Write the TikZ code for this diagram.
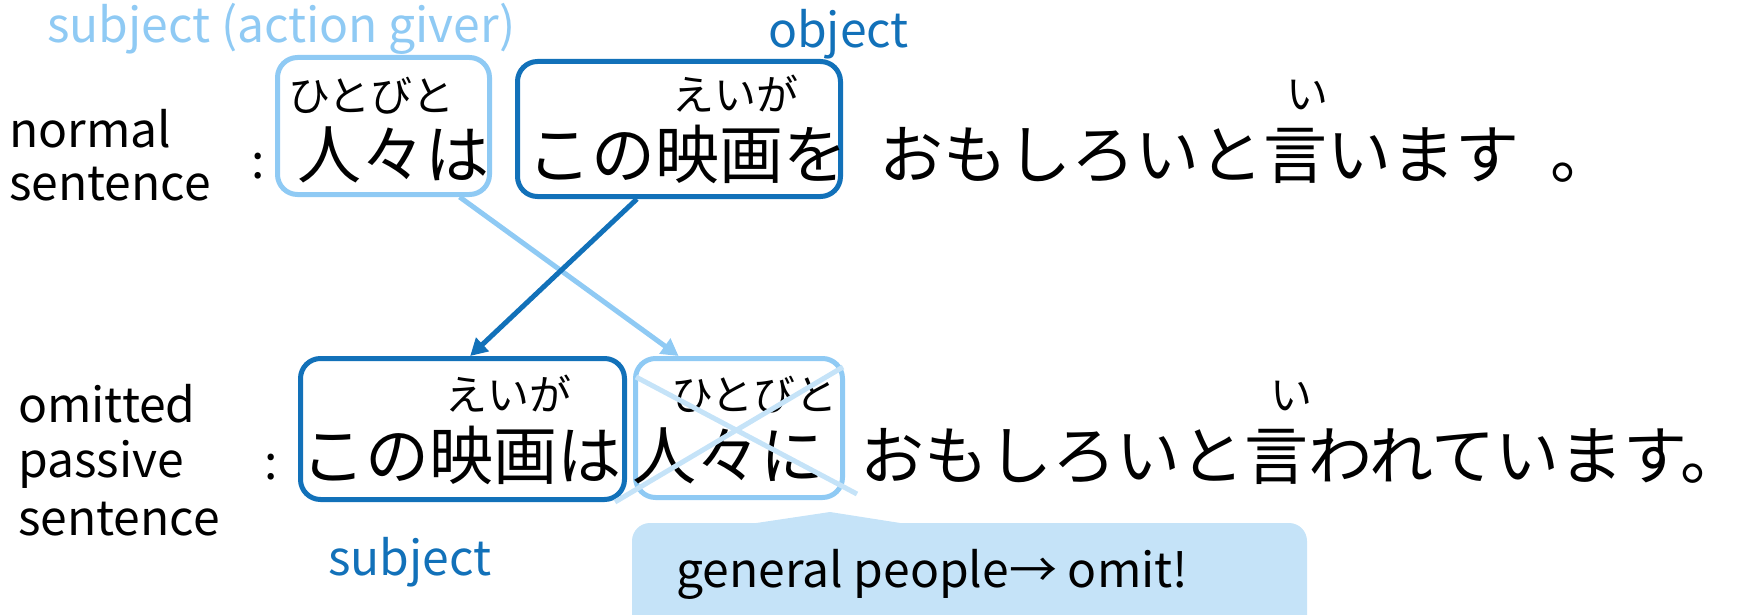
\documentclass[tikz,border=0pt]{standalone}
\usepackage{fontspec}
\setmainfont{Noto Sans CJK JP}
\usepackage{tikz}
\usetikzlibrary{arrows.meta}
\usetikzlibrary{positioning}
\definecolor{lightblue}{RGB}{143,202,244}
\definecolor{darkblue}{RGB}{18,113,185}
\definecolor{paleblue}{RGB}{197,227,248}
\tikzset{
  lightbox/.style={draw=lightblue,line width=5pt,rounded corners=20pt,inner sep=0pt},
  darkbox/.style={draw=darkblue,line width=5pt,rounded corners=20pt,inner sep=0pt},
  jp/.style={font=\fontsize{64}{70}\selectfont,inner sep=0pt,anchor=base west},
  ruby/.style={font=\fontsize{42}{46}\selectfont,inner sep=0pt,anchor=base west},
  lbl/.style={font=\fontsize{48}{52}\selectfont,inner sep=0pt,anchor=base west},
  move/.style={line width=5pt,-{Triangle[length=17pt,width=18pt]}},
  strike/.style={draw=paleblue,line width=5pt},
}
\begin{document}
\begin{tikzpicture}[line join=round,x=1pt,y=-1pt]
\clip (0,0) rectangle (1737,615);
\node[lbl,text=lightblue] (giver) at (47,43) {subject (action giver)};
\node[lbl,text=darkblue] (obj) at (768,48) {object};
\node[lbl] (normal) at (9,148) {normal};
\node[lbl] (sent) at (9,200) {sentence};
\node[lbl] (colA) at (251,178) {:};
\node[lightbox,minimum width=212pt,minimum height=137pt] (b1) at (383.5,126) {};
\node[darkbox,minimum width=323pt,minimum height=135pt] (b2) at (679,129) {};
\node[ruby] (hitoA) at (288,112) {ひとびと};
\node[jp] (peopleA) at (297,178) {人々は};
\node[ruby] (eigaA) at (672,111) {えいが};
\node[jp] (movieA) at (527,178) {この映画を};
\node[jp] (restA) at (879,178) {おもしろいと言います\hspace{31pt}。};
\node[ruby] (iA) at (1286,110) {い};
\foreach \w/\y in {omitted/422,passive/477,sentence/535}
\node[lbl] (\w) at (18,\y) {\w};
\node[lbl] (colB) at (264,479) {:};
\node[darkbox,minimum width=324pt,minimum height=141pt] (b3) at (462.5,429) {};
\node[lightbox,minimum width=207pt,minimum height=139pt] (b4) at (739,428) {};
\node[ruby] (eigaB) at (445,410) {えいが};
\node[jp] (movieB) at (301,479) {この映画は};
\node[ruby] (hitoB) at (671,410) {ひとびと};
\node[jp] (peopleB) at (632,479) {人々に};
\node[jp] (restB) at (860,479) {おもしろいと言われています。\hspace{-30pt}};
\node[ruby] (iB) at (1270,410) {い};
\draw[strike] (636,377) -- (857,494);
\draw[strike] (615,502) -- (843,367);
\draw[move,draw=lightblue,fill=lightblue] (b1.-43) -- (b4.130);
\draw[move,draw=darkblue,fill=darkblue] (b2.-121) -- (b3.84);
\node[lbl,text=darkblue] (subj) at (328,575) {subject};
\node[fill=paleblue,rounded corners=18pt,minimum width=675pt,minimum height=120pt,inner sep=0pt] (note) at (969.5,583) {};
\fill[paleblue] (743,525) -- (830,512) -- (913,525) -- cycle;
\node[lbl] (omit) at (676,587) {general people→ omit!};
\end{tikzpicture}
\end{document}
